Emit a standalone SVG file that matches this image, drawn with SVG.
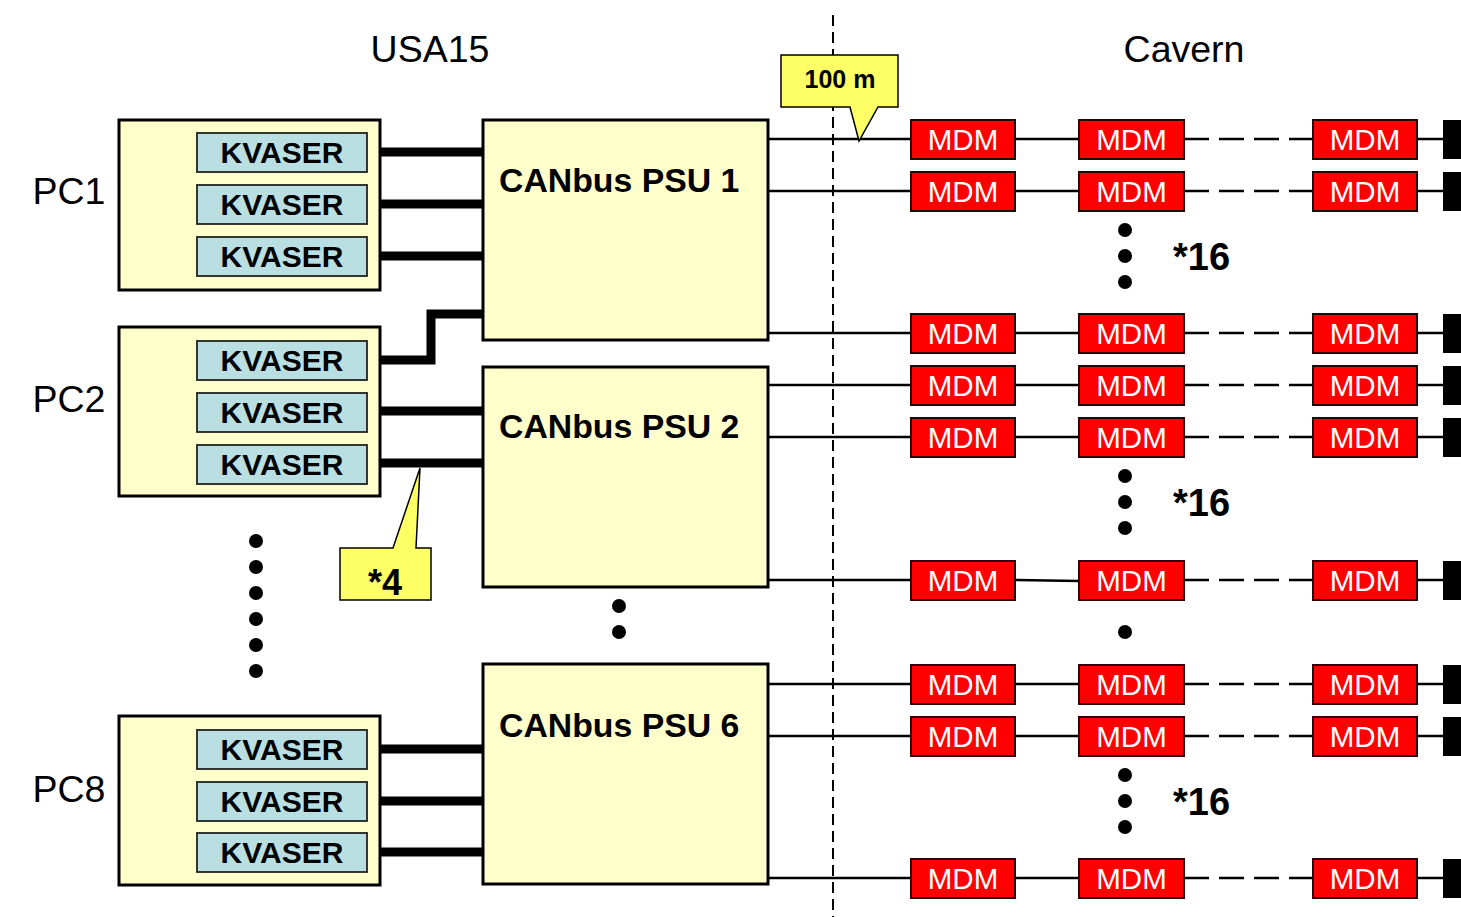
<svg xmlns="http://www.w3.org/2000/svg" width="1461" height="917" viewBox="0 0 1461 917">
<style>
.pc{fill:#FFFFCC;stroke:#000;stroke-width:3}
.kv{fill:#B9DFE2;stroke:#222;stroke-width:1.8}
.kvt{font-family:"Liberation Sans",Arial,sans-serif;font-weight:bold;font-size:30px;fill:#000;text-anchor:middle}
.psu{fill:#FFFFCC;stroke:#000;stroke-width:3}
.psut{font-family:"Liberation Sans",Arial,sans-serif;font-weight:bold;font-size:33.8px;fill:#000}
.mdm{fill:#FF0000;stroke:#2a0000;stroke-width:2}
.mdmt{font-family:"Liberation Sans",Arial,sans-serif;font-size:29.5px;fill:#fff;text-anchor:middle}
.term{fill:#000}
.lbl{font-family:"Liberation Sans",Arial,sans-serif;font-size:37.5px;fill:#000}
.bold{font-family:"Liberation Sans",Arial,sans-serif;font-weight:bold;fill:#000}
.thick{stroke:#000;stroke-width:9;fill:none}
.thin{stroke:#000;stroke-width:2.5;fill:none}
.dash{stroke:#000;stroke-width:2.5;fill:none;stroke-dasharray:25 10}
.call{fill:#FFFF66;stroke:#000;stroke-width:1.5}
.dot{fill:#000}
</style>
<rect width="1461" height="917" fill="#fff"/>

<!-- headings -->
<text class="lbl" x="430" y="62" text-anchor="middle">USA15</text>
<text class="lbl" x="1184" y="62" text-anchor="middle">Cavern</text>
<line x1="833" y1="15" x2="833" y2="917" stroke="#000" stroke-width="2" stroke-dasharray="11 6"/>

<!-- connectors -->
<g id="connectors">
  <line class="thick" x1="367" y1="152" x2="483" y2="152"/>
  <line class="thick" x1="367" y1="204" x2="483" y2="204"/>
  <line class="thick" x1="367" y1="256" x2="483" y2="256"/>
  <polyline class="thick" points="367,360 431,360 431,314 483,314"/>
  <line class="thick" x1="367" y1="411" x2="483" y2="411"/>
  <line class="thick" x1="367" y1="463" x2="483" y2="463"/>
  <line class="thick" x1="367" y1="749" x2="483" y2="749"/>
  <line class="thick" x1="367" y1="801" x2="483" y2="801"/>
  <line class="thick" x1="367" y1="852" x2="483" y2="852"/>
  <g>
    <line class="thin" x1="768" y1="139" x2="911" y2="139"/><line class="thin" x1="1015" y1="139" x2="1079" y2="139"/><line class="dash" x1="1184" y1="139" x2="1313" y2="139"/><line class="thin" x1="1417" y1="139" x2="1443" y2="139"/>
    <line class="thin" x1="768" y1="191" x2="911" y2="191"/><line class="thin" x1="1015" y1="191" x2="1079" y2="191"/><line class="dash" x1="1184" y1="191" x2="1313" y2="191"/><line class="thin" x1="1417" y1="191" x2="1443" y2="191"/>
    <line class="thin" x1="768" y1="333" x2="911" y2="333"/><line class="thin" x1="1015" y1="333" x2="1079" y2="333"/><line class="dash" x1="1184" y1="333" x2="1313" y2="333"/><line class="thin" x1="1417" y1="333" x2="1443" y2="333"/>
    <line class="thin" x1="768" y1="385" x2="911" y2="385"/><line class="thin" x1="1015" y1="385" x2="1079" y2="385"/><line class="dash" x1="1184" y1="385" x2="1313" y2="385"/><line class="thin" x1="1417" y1="385" x2="1443" y2="385"/>
    <line class="thin" x1="768" y1="437" x2="911" y2="437"/><line class="thin" x1="1015" y1="437" x2="1079" y2="437"/><line class="dash" x1="1184" y1="437" x2="1313" y2="437"/><line class="thin" x1="1417" y1="437" x2="1443" y2="437"/>
    <line class="thin" x1="768" y1="580" x2="911" y2="580"/><line class="thin" x1="1015" y1="580" x2="1079" y2="581"/><line class="dash" x1="1184" y1="580" x2="1313" y2="580"/><line class="thin" x1="1417" y1="580" x2="1443" y2="580"/>
    <line class="thin" x1="768" y1="684" x2="911" y2="684"/><line class="thin" x1="1015" y1="684" x2="1079" y2="684"/><line class="dash" x1="1184" y1="684" x2="1313" y2="684"/><line class="thin" x1="1417" y1="684" x2="1443" y2="684"/>
    <line class="thin" x1="768" y1="736" x2="911" y2="736"/><line class="thin" x1="1015" y1="736" x2="1079" y2="736"/><line class="dash" x1="1184" y1="736" x2="1313" y2="736"/><line class="thin" x1="1417" y1="736" x2="1443" y2="736"/>
    <line class="thin" x1="768" y1="878" x2="911" y2="878"/><line class="thin" x1="1015" y1="878" x2="1079" y2="878"/><line class="dash" x1="1184" y1="878" x2="1313" y2="878"/><line class="thin" x1="1417" y1="878" x2="1443" y2="878"/>
  </g>
</g>

<!-- PCs -->
<g id="pc1">
  <rect class="pc" x="119" y="120" width="261" height="170"/>
  <rect class="kv" x="197" y="133" width="170" height="39"/><text class="kvt" x="282" y="163">KVASER</text>
  <rect class="kv" x="197" y="185" width="170" height="39"/><text class="kvt" x="282" y="215">KVASER</text>
  <rect class="kv" x="197" y="237" width="170" height="39"/><text class="kvt" x="282" y="267">KVASER</text>
  <text class="lbl" x="69" y="204" text-anchor="middle">PC1</text>
</g>
<g id="pc2">
  <rect class="pc" x="119" y="327" width="261" height="169"/>
  <rect class="kv" x="197" y="341" width="170" height="39"/><text class="kvt" x="282" y="371">KVASER</text>
  <rect class="kv" x="197" y="393" width="170" height="39"/><text class="kvt" x="282" y="423">KVASER</text>
  <rect class="kv" x="197" y="445" width="170" height="39"/><text class="kvt" x="282" y="475">KVASER</text>
  <text class="lbl" x="69" y="412" text-anchor="middle">PC2</text>
</g>
<g id="pc8">
  <rect class="pc" x="119" y="716" width="261" height="169"/>
  <rect class="kv" x="197" y="730" width="170" height="39"/><text class="kvt" x="282" y="760">KVASER</text>
  <rect class="kv" x="197" y="782" width="170" height="39"/><text class="kvt" x="282" y="812">KVASER</text>
  <rect class="kv" x="197" y="833" width="170" height="39"/><text class="kvt" x="282" y="863">KVASER</text>
  <text class="lbl" x="69" y="802" text-anchor="middle">PC8</text>
</g>

<!-- PSUs -->
<g id="psu1"><rect class="psu" x="483" y="120" width="285" height="220"/><text class="psut" x="499" y="192">CANbus PSU 1</text></g>
<g id="psu2"><rect class="psu" x="483" y="367" width="285" height="220"/><text class="psut" x="499" y="438">CANbus PSU 2</text></g>
<g id="psu6"><rect class="psu" x="483" y="664" width="285" height="220"/><text class="psut" x="499" y="737">CANbus PSU 6</text></g>

<!-- ellipsis dots -->
<g id="dots">
  <circle class="dot" cx="256" cy="541" r="7"/><circle class="dot" cx="256" cy="567" r="7"/><circle class="dot" cx="256" cy="593" r="7"/>
  <circle class="dot" cx="256" cy="619" r="7"/><circle class="dot" cx="256" cy="645" r="7"/><circle class="dot" cx="256" cy="671" r="7"/>
  <circle class="dot" cx="619" cy="606" r="7"/><circle class="dot" cx="619" cy="632" r="7"/>
  <circle class="dot" cx="1125" cy="230" r="7"/><circle class="dot" cx="1125" cy="256" r="7"/><circle class="dot" cx="1125" cy="282" r="7"/>
  <circle class="dot" cx="1125" cy="476" r="7"/><circle class="dot" cx="1125" cy="502" r="7"/><circle class="dot" cx="1125" cy="528" r="7"/>
  <circle class="dot" cx="1125" cy="632" r="7"/>
  <circle class="dot" cx="1125" cy="775" r="7"/><circle class="dot" cx="1125" cy="801" r="7"/><circle class="dot" cx="1125" cy="827" r="7"/>
  <text class="bold" x="1173" y="270" font-size="38">*16</text>
  <text class="bold" x="1173" y="516" font-size="38">*16</text>
  <text class="bold" x="1173" y="815" font-size="38">*16</text>
</g>

<!-- MDM modules -->
<g id="mdm-r1"><rect class="mdm" x="911" y="120" width="104" height="39"/><text class="mdmt" x="963" y="150">MDM</text><rect class="mdm" x="1079" y="120" width="105" height="39"/><text class="mdmt" x="1131.5" y="150">MDM</text><rect class="mdm" x="1313" y="120" width="104" height="39"/><text class="mdmt" x="1365" y="150">MDM</text><rect class="term" x="1443" y="120" width="18" height="39"/></g>
<g id="mdm-r2"><rect class="mdm" x="911" y="172" width="104" height="39"/><text class="mdmt" x="963" y="202">MDM</text><rect class="mdm" x="1079" y="172" width="105" height="39"/><text class="mdmt" x="1131.5" y="202">MDM</text><rect class="mdm" x="1313" y="172" width="104" height="39"/><text class="mdmt" x="1365" y="202">MDM</text><rect class="term" x="1443" y="172" width="18" height="39"/></g>
<g id="mdm-r3"><rect class="mdm" x="911" y="314" width="104" height="39"/><text class="mdmt" x="963" y="344">MDM</text><rect class="mdm" x="1079" y="314" width="105" height="39"/><text class="mdmt" x="1131.5" y="344">MDM</text><rect class="mdm" x="1313" y="314" width="104" height="39"/><text class="mdmt" x="1365" y="344">MDM</text><rect class="term" x="1443" y="314" width="18" height="39"/></g>
<g id="mdm-r4"><rect class="mdm" x="911" y="366" width="104" height="39"/><text class="mdmt" x="963" y="396">MDM</text><rect class="mdm" x="1079" y="366" width="105" height="39"/><text class="mdmt" x="1131.5" y="396">MDM</text><rect class="mdm" x="1313" y="366" width="104" height="39"/><text class="mdmt" x="1365" y="396">MDM</text><rect class="term" x="1443" y="366" width="18" height="39"/></g>
<g id="mdm-r5"><rect class="mdm" x="911" y="418" width="104" height="39"/><text class="mdmt" x="963" y="448">MDM</text><rect class="mdm" x="1079" y="418" width="105" height="39"/><text class="mdmt" x="1131.5" y="448">MDM</text><rect class="mdm" x="1313" y="418" width="104" height="39"/><text class="mdmt" x="1365" y="448">MDM</text><rect class="term" x="1443" y="418" width="18" height="39"/></g>
<g id="mdm-r6"><rect class="mdm" x="911" y="561" width="104" height="39"/><text class="mdmt" x="963" y="591">MDM</text><rect class="mdm" x="1079" y="561" width="105" height="39"/><text class="mdmt" x="1131.5" y="591">MDM</text><rect class="mdm" x="1313" y="561" width="104" height="39"/><text class="mdmt" x="1365" y="591">MDM</text><rect class="term" x="1443" y="561" width="18" height="39"/></g>
<g id="mdm-r7"><rect class="mdm" x="911" y="665" width="104" height="39"/><text class="mdmt" x="963" y="695">MDM</text><rect class="mdm" x="1079" y="665" width="105" height="39"/><text class="mdmt" x="1131.5" y="695">MDM</text><rect class="mdm" x="1313" y="665" width="104" height="39"/><text class="mdmt" x="1365" y="695">MDM</text><rect class="term" x="1443" y="665" width="18" height="39"/></g>
<g id="mdm-r8"><rect class="mdm" x="911" y="717" width="104" height="39"/><text class="mdmt" x="963" y="747">MDM</text><rect class="mdm" x="1079" y="717" width="105" height="39"/><text class="mdmt" x="1131.5" y="747">MDM</text><rect class="mdm" x="1313" y="717" width="104" height="39"/><text class="mdmt" x="1365" y="747">MDM</text><rect class="term" x="1443" y="717" width="18" height="39"/></g>
<g id="mdm-r9"><rect class="mdm" x="911" y="859" width="104" height="39"/><text class="mdmt" x="963" y="889">MDM</text><rect class="mdm" x="1079" y="859" width="105" height="39"/><text class="mdmt" x="1131.5" y="889">MDM</text><rect class="mdm" x="1313" y="859" width="104" height="39"/><text class="mdmt" x="1365" y="889">MDM</text><rect class="term" x="1443" y="859" width="18" height="39"/></g>

<!-- callouts -->
<g id="callout-100m">
  <path class="call" d="M781,55 H898 V107 H878 L859,141 L850,107 H781 Z"/>
  <text class="bold" x="840" y="88" font-size="25" text-anchor="middle">100 m</text>
</g>
<g id="callout-4">
  <path class="call" d="M340,548 H393 L420,468 L416,548 H431 V600 H340 Z"/>
  <text class="bold" x="385" y="595" font-size="36" text-anchor="middle">*4</text>
</g>
</svg>
